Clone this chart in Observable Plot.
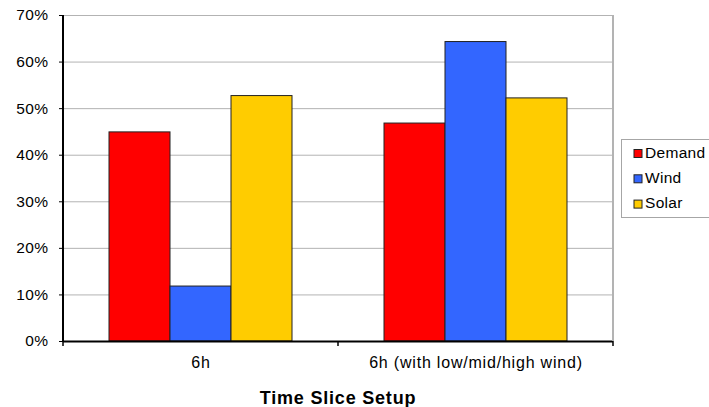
<!DOCTYPE html>
<html>
<head>
<meta charset="utf-8">
<script src="https://cdn.jsdelivr.net/npm/d3@7"></script>
<script src="https://cdn.jsdelivr.net/npm/@observablehq/plot@0.6"></script>
<style>
  body { margin: 0; background: #fff; }
  #chart { width: 709px; height: 407px; }
  #chart svg text { font-family: "Liberation Sans", Arial, sans-serif; }
  #chart svg [aria-label="y-axis"] text,
  #chart svg [aria-label="y-axis tick label"] text { font-size: 15.5px; letter-spacing: 0.4px; }
</style>
</head>
<body>
<div id="chart"></div>
<script>
// Share of each driver per time-slice setup (percent)
const groups = ["6h", "6h (with low/mid/high wind)"];
const series = ["Demand", "Wind", "Solar"];
const colors = ["#ff0000", "#3366ff", "#ffcc00"];
const demand = [44.9, 46.8];
const wind = [11.8, 64.3];
const solar = [52.7, 52.2];
const yTicks = [0, 10, 20, 30, 40, 50, 60, 70];
const xTitle = "Time Slice Setup";

const valuesBySeries = { Demand: demand, Wind: wind, Solar: solar };
const rows = groups.flatMap((g, i) =>
  series.map(s => ({ group: g, series: s, value: valuesBySeries[s][i] }))
);

const plot = Plot.plot({
  width: 709,
  height: 407,
  marginLeft: 62,
  marginRight: 96,
  marginTop: 15,
  marginBottom: 66,
  style: { fontFamily: "'Liberation Sans', Arial, sans-serif", fontSize: "15.5px", color: "#000", background: "#fff" },
  facet: { data: rows, x: "group" },
  fx: { domain: groups, padding: 0, label: null, tickSize: 0, tickPadding: 15, axis: "bottom" },
  x: { domain: series, paddingInner: 0, paddingOuter: 0.75, axis: null },
  y: { domain: [0, 70], ticks: yTicks, tickFormat: d => d + "%", tickSize: 4, tickPadding: 11, label: null },
  color: { domain: series, range: colors },
  marks: [
    Plot.ruleY(yTicks.slice(1), { stroke: "#b3b3b3", strokeWidth: 1 }),
    Plot.barY(rows, { x: "series", y: "value", fill: "series", stroke: "#222", strokeWidth: 1, insetLeft: 0, insetRight: 0 }),
    Plot.ruleY([0], { stroke: "#000", strokeWidth: 2 })
  ]
});

document.getElementById("chart").appendChild(plot);

// Frame pieces, category dividers, axis title and legend placed from the plot's scales
const svg = d3.select(plot);
const fx = plot.scale("fx");
const y = plot.scale("y");
const fxPos = g => fx.apply ? fx.apply(g) : fx.range[0] + groups.indexOf(g) * fx.step;
const left = fxPos(groups[0]);
const right = fxPos(groups[groups.length - 1]) + fx.bandwidth;
const y0 = y.apply(0), yTop = y.apply(70);

// category tick labels: slightly larger and wider-set
svg.selectAll("text").filter(function () {
  return groups.includes(this.textContent);
}).style("font-size", "16px").style("letter-spacing", "0.8px");

const overlay = svg.append("g");
// right border
overlay.append("line")
  .attr("x1", right).attr("x2", right).attr("y1", yTop).attr("y2", y0)
  .attr("stroke", "#b3b3b3").attr("stroke-width", 2);
// left value axis line
overlay.append("line")
  .attr("x1", left).attr("x2", left).attr("y1", yTop).attr("y2", y0 + 1)
  .attr("stroke", "#000").attr("stroke-width", 2);
// category boundary ticks
const bounds = groups.map(fxPos).concat([right]);
overlay.selectAll("line.cat").data(bounds).join("line")
  .attr("x1", d => d).attr("x2", d => d).attr("y1", y0).attr("y2", y0 + 5)
  .attr("stroke", "#000").attr("stroke-width", 1.5);

// axis title
overlay.append("text")
  .attr("x", (left + right) / 2).attr("y", 404)
  .attr("text-anchor", "middle")
  .attr("font-size", 18).attr("font-weight", "bold")
  .style("letter-spacing", "0.8px")
  .attr("fill", "#000")
  .text(xTitle);

// legend
const color = plot.scale("color");
const legend = svg.append("g").attr("text-anchor", "start");
legend.append("rect")
  .attr("x", 621.5).attr("y", 139.5).attr("width", 100).attr("height", 78)
  .attr("fill", "#fff").attr("stroke", "#a6a6a6");
const item = legend.selectAll("g.item").data(series).join("g")
  .attr("transform", (d, i) => `translate(634, ${157.5 + i * 25.3})`);
item.append("rect")
  .attr("x", 0).attr("y", -8).attr("width", 8).attr("height", 8)
  .attr("fill", d => color.apply ? color.apply(d) : colors[series.indexOf(d)])
  .attr("stroke", "#222").attr("stroke-width", 1);
item.append("text")
  .attr("x", 11).attr("y", 0)
  .attr("text-anchor", "start")
  .attr("font-size", 15.5).style("letter-spacing", "0.3px")
  .attr("fill", "#000")
  .text(d => d);
</script>
</body>
</html>
